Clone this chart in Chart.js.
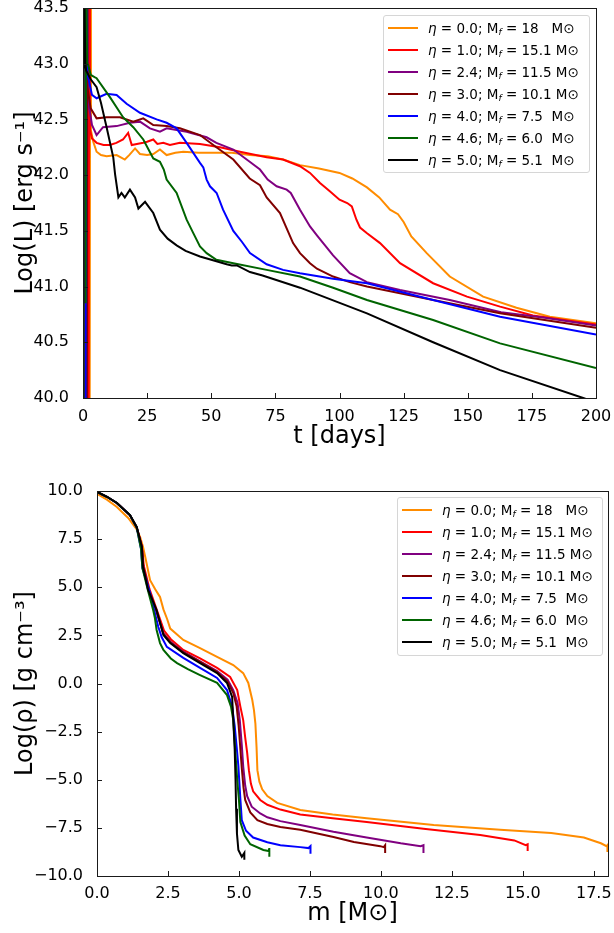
<!DOCTYPE html>
<html>
<head>
<meta charset="utf-8">
<script src="https://cdn.jsdelivr.net/npm/chart.js@4.4.0/dist/chart.umd.min.js"></script>
<style>
    body { margin: 0; background: #fff; }
    #wrap { position: relative; width: 614px; height: 933px; font-family: "DejaVu Sans", sans-serif; }
    canvas { position: absolute; left: 0; }
    .legend {
        position: absolute;
        box-sizing: border-box;
        border: 1px solid #d6d6d6;
        border-radius: 3px;
        background: rgba(255, 255, 255, 0.85);
        padding-top: 1px;
        font-size: 13.5px;
        color: #000;
    }
    .legend .row { position: relative; height: 22px; line-height: 22px; white-space: pre; }
    .legend .swatch { position: absolute; left: 4px; top: 10px; width: 30px; height: 2px; }
    .legend .txt { position: absolute; left: 44px; top: 0; }
    .legend sub { font-size: 9px; vertical-align: -2px; line-height: 0; }
</style>
</head>
<body>
<div id="wrap">
    <canvas id="lcChart" width="614" height="460" style="top:0"></canvas>
    <canvas id="rhoChart" width="614" height="473" style="top:460px"></canvas>
    <div id="lcLegend" class="legend" style="left:383px; top:15px; width:207px; height:158px"></div>
    <div id="rhoLegend" class="legend" style="left:397px; top:497px; width:206px; height:159px"></div>
</div>
<script>
// model labels: mass-loss eta and final mass
const etaLabels = ['0.0', '1.0', '2.4', '3.0', '4.0', '4.6', '5.0'];
const massLabels = ['18  ', '15.1', '11.5', '10.1', '7.5 ', '6.0 ', '5.1 '];
const lineColors = ['#ff8c00', '#ff0000', '#800080', '#800000', '#0000ff', '#006400', '#000000'];

// light curves: t [days], Log(L)
const lcT0 = [2.6, 2.8, 3.1, 4, 5.3, 7, 9.2, 13.1, 16.3, 18, 20.3, 22.2, 25, 27.4, 30, 32.6, 36, 39.1, 45, 52.1, 58, 65.1, 72, 78, 84.6, 92, 100, 105, 110.7, 115.5, 119.7, 122.8, 125, 128, 134, 143, 156, 169, 182, 200];
const lcL0 = [39.5, 44.0, 42.4, 42.3, 42.21, 42.18, 42.17, 42.18, 42.14, 42.18, 42.24, 42.19, 42.18, 42.19, 42.23, 42.18, 42.2, 42.21, 42.2, 42.2, 42.2, 42.18, 42.17, 42.14, 42.09, 42.06, 42.02, 41.97, 41.89, 41.8, 41.69, 41.65, 41.58, 41.45, 41.3, 41.09, 40.91, 40.81, 40.73, 40.67];

const lcT1 = [2.2, 2.4, 2.7, 3.5, 5.3, 8, 10.5, 13, 15.6, 17.6, 19, 21, 23.5, 25, 27.4, 29, 31.3, 33.9, 37.8, 45.6, 53.4, 61.2, 71.6, 78, 84.6, 88.5, 92.4, 96, 100, 103, 104.8, 106.6, 108, 110.6, 115.8, 123.6, 136.5, 149.7, 162.6, 175.4, 200];
const lcL1 = [39.5, 44.0, 42.41, 42.33, 42.29, 42.27, 42.27, 42.29, 42.32, 42.38, 42.27, 42.28, 42.29, 42.3, 42.32, 42.28, 42.29, 42.27, 42.29, 42.28, 42.25, 42.21, 42.16, 42.14, 42.08, 42.02, 41.93, 41.86, 41.78, 41.75, 41.72, 41.6, 41.53, 41.48, 41.39, 41.21, 41.03, 40.91, 40.82, 40.74, 40.66];

const lcT2 = [1.5, 1.7, 2.0, 3.5, 5.3, 7.8, 13.1, 18.3, 22.2, 26.1, 30, 32.6, 40.4, 48.2, 52, 58.6, 65, 69, 72, 75.5, 79.4, 81, 84.6, 88.5, 91.2, 97.5, 104, 110.7, 123.6, 143, 163, 180, 200];
const lcL2 = [39.5, 44.0, 42.67, 42.45, 42.36, 42.43, 42.44, 42.47, 42.48, 42.42, 42.39, 42.42, 42.39, 42.34, 42.29, 42.23, 42.12, 42.05, 41.96, 41.9, 41.87, 41.84, 41.69, 41.54, 41.46, 41.28, 41.12, 41.04, 40.97, 40.88, 40.77, 40.72, 40.65];

const lcT3 = [1.5, 1.6, 1.7, 3, 5.3, 9.2, 14.4, 19.6, 23.5, 27.4, 32.6, 37.8, 45.6, 52, 58.6, 65, 69, 71.6, 76.8, 81.9, 84.6, 88.5, 91.2, 97.5, 104, 110.7, 136.5, 162.6, 200];
const lcL3 = [39.5, 44.0, 42.79, 42.6, 42.51, 42.52, 42.52, 42.48, 42.51, 42.45, 42.44, 42.42, 42.36, 42.25, 42.14, 41.97, 41.91, 41.8, 41.66, 41.39, 41.3, 41.21, 41.16, 41.09, 41.04, 41.0, 40.88, 40.76, 40.63];

const lcT4 = [1.0, 1.2, 1.6, 2.0, 3.5, 5.3, 9.2, 13.1, 17, 22.2, 28.7, 32.6, 36.5, 40.4, 45.6, 46.9, 48.2, 49.5, 52.1, 54.6, 58.6, 62, 65.1, 71.6, 78, 84.6, 97.5, 110.7, 136.5, 162.6, 200];
const lcL4 = [39.5, 44.0, 42.92, 42.88, 42.72, 42.69, 42.73, 42.72, 42.64, 42.56, 42.5, 42.47, 42.42, 42.29, 42.11, 42.07, 41.96, 41.9, 41.84, 41.69, 41.5, 41.4, 41.3, 41.2, 41.15, 41.12, 41.07, 41.03, 40.88, 40.73, 40.57];

const lcT5 = [1.0, 1.2, 1.6, 2.0, 3.0, 4.5, 5.3, 10.5, 15.6, 19.6, 23.5, 27.4, 30, 31.5, 32.6, 36.5, 40.4, 43, 45.6, 48.2, 52, 58.6, 71.6, 84.6, 97.5, 110.7, 136.5, 162.6, 200];
const lcL5 = [40.85, 44.0, 43.0, 42.99, 42.9, 42.88, 42.87, 42.7, 42.52, 42.43, 42.32, 42.15, 42.12, 42.05, 41.96, 41.84, 41.6, 41.48, 41.36, 41.3, 41.24, 41.21, 41.15, 41.09, 40.99, 40.88, 40.7, 40.49, 40.27];

const lcT6 = [0, 0.3, 0.9, 1.2, 3, 5.3, 7, 9.2, 11.8, 12.5, 13.8, 15, 16.3, 18.3, 20.3, 21.6, 24.2, 27.4, 30, 33, 36.5, 40, 45.6, 50, 56, 58, 60, 65.1, 70, 84.6, 110.7, 136.5, 162.6, 195, 200];
const lcL6 = [39.5, 44.0, 43.0, 42.94, 42.86, 42.79, 42.65, 42.43, 42.16, 42.01, 41.8, 41.84, 41.8, 41.87, 41.8, 41.7, 41.76, 41.66, 41.51, 41.43, 41.37, 41.32, 41.27, 41.24, 41.2, 41.19, 41.19, 41.13, 41.1, 40.99, 40.76, 40.5, 40.25, 40.0, 39.96];

// density profiles: m [Msun], Log(rho)
const rhoM0 = [0, 0.35, 0.7, 1.1, 1.4, 1.52, 1.62, 1.7, 1.87, 2.05, 2.22, 2.34, 2.47, 2.58, 2.82, 3.04, 3.63, 4.23, 4.8, 5.15, 5.33, 5.47, 5.53, 5.58, 5.62, 5.65, 5.72, 5.82, 6.0, 6.35, 7.16, 8.3, 9.5, 11.86, 14.2, 16.0, 17.15, 17.75, 17.95, 17.98, 17.98];
const rhoV0 = [9.85, 9.55, 9.17, 8.6, 8.0, 7.6, 7.1, 6.57, 5.37, 4.9, 4.5, 3.85, 3.35, 2.85, 2.55, 2.26, 1.84, 1.38, 0.96, 0.54, 0.03, -0.86, -1.4, -2.1, -3.3, -4.5, -5.1, -5.5, -5.85, -6.2, -6.57, -6.8, -7.0, -7.35, -7.6, -7.77, -8.0, -8.3, -8.45, -8.4, -8.75];

const rhoM1 = [0, 0.35, 0.7, 1.16, 1.4, 1.58, 1.65, 1.85, 2.1, 2.36, 2.6, 3.04, 3.63, 4.23, 4.69, 4.94, 5.05, 5.15, 5.22, 5.29, 5.35, 5.42, 5.5, 5.75, 6.0, 6.46, 7.16, 8.3, 9.5, 11.5, 13.5, 14.7, 15.1, 15.17, 15.17];
const rhoV1 = [9.95, 9.7, 9.38, 8.75, 8.1, 7.15, 6.1, 4.9, 3.85, 2.75, 2.3, 1.74, 1.3, 0.81, 0.34, -0.34, -1.2, -1.9, -2.8, -3.6, -4.5, -5.2, -5.6, -6.05, -6.3, -6.55, -6.8, -7.0, -7.2, -7.55, -7.87, -8.15, -8.4, -8.35, -8.7];

const rhoM2 = [0, 0.35, 0.7, 1.16, 1.4, 1.58, 1.63, 1.83, 2.08, 2.34, 2.6, 3.04, 3.63, 4.23, 4.6, 4.8, 4.95, 5.03, 5.1, 5.15, 5.22, 5.29, 5.45, 5.75, 6.0, 6.46, 7.16, 8.33, 9.5, 10.7, 11.4, 11.5, 11.5];
const rhoV2 = [9.95, 9.7, 9.38, 8.75, 8.1, 7.1, 6.05, 4.85, 3.82, 2.6, 2.15, 1.65, 1.15, 0.65, 0.2, -0.34, -1.0, -1.9, -3.2, -4.3, -5.3, -5.85, -6.4, -6.75, -6.95, -7.15, -7.35, -7.7, -8.0, -8.3, -8.45, -8.4, -8.8];

const rhoM3 = [0, 0.35, 0.7, 1.16, 1.4, 1.58, 1.63, 1.83, 2.08, 2.34, 2.6, 3.04, 3.63, 4.23, 4.6, 4.8, 4.92, 4.99, 5.05, 5.1, 5.16, 5.22, 5.4, 5.65, 6.0, 6.46, 7.16, 8.33, 9.05, 9.98, 10.1, 10.15, 10.15];
const rhoV3 = [9.95, 9.7, 9.38, 8.75, 8.1, 7.1, 6.05, 4.85, 3.82, 2.58, 2.12, 1.62, 1.12, 0.6, 0.1, -0.5, -1.2, -2.2, -3.4, -4.4, -5.4, -6.05, -6.7, -7.1, -7.3, -7.45, -7.6, -7.97, -8.23, -8.45, -8.5, -8.4, -8.8];

const rhoM4 = [0, 0.35, 0.7, 1.16, 1.4, 1.55, 1.6, 1.87, 2.0, 2.16, 2.28, 2.46, 3.04, 3.63, 4.23, 4.58, 4.76, 4.85, 4.92, 4.98, 5.05, 5.1, 5.25, 5.5, 6.0, 6.46, 7.16, 7.45, 7.52, 7.52];
const rhoV4 = [9.95, 9.7, 9.38, 8.75, 8.1, 7.0, 6.0, 4.7, 3.9, 2.93, 2.4, 1.9, 1.33, 0.81, 0.29, -0.34, -1.2, -2.2, -3.3, -4.3, -6.0, -7.1, -7.65, -8.0, -8.25, -8.4, -8.5, -8.55, -8.45, -8.85];

const rhoM5 = [0, 0.35, 0.7, 1.16, 1.4, 1.55, 1.6, 1.8, 1.98, 2.04, 2.1, 2.22, 2.34, 2.6, 2.82, 3.2, 3.63, 4.23, 4.58, 4.72, 4.8, 4.87, 4.94, 5.0, 5.05, 5.2, 5.4, 5.86, 6.05, 6.07, 6.07];
const rhoV5 = [9.95, 9.7, 9.38, 8.75, 8.1, 7.0, 6.0, 4.8, 3.8, 3.4, 2.78, 2.1, 1.74, 1.3, 1.06, 0.75, 0.44, 0.03, -0.6, -1.2, -1.9, -3.5, -5.0, -6.05, -7.2, -7.9, -8.35, -8.65, -8.7, -8.55, -9.0];

const rhoM6 = [0, 0.35, 0.7, 1.16, 1.4, 1.58, 1.62, 1.8, 2.1, 2.34, 2.58, 3.04, 3.63, 4.23, 4.58, 4.76, 4.8, 4.85, 4.88, 4.9, 4.93, 4.98, 5.1, 5.19, 5.19];
const rhoV6 = [9.95, 9.7, 9.38, 8.75, 8.13, 7.09, 6.05, 4.86, 3.82, 2.52, 2.1, 1.58, 1.06, 0.54, 0.03, -0.7, -1.9, -3.4, -5.0, -6.5, -7.8, -8.65, -9.0, -8.8, -9.15];

const lcTimes = [lcT0, lcT1, lcT2, lcT3, lcT4, lcT5, lcT6];
const lcLums = [lcL0, lcL1, lcL2, lcL3, lcL4, lcL5, lcL6];
const rhoMass = [rhoM0, rhoM1, rhoM2, rhoM3, rhoM4, rhoM5, rhoM6];
const rhoVals = [rhoV0, rhoV1, rhoV2, rhoV3, rhoV4, rhoV5, rhoV6];

const FONT = '"DejaVu Sans", sans-serif';
const minus = (s) => s.replace('-', '\u2212');

// box around the axes and inward ticks on left / bottom
const framePlugin = {
    id: 'frame',
    afterDatasetsDraw(chart) {
        const { ctx, chartArea: a, scales } = chart;
        ctx.save();
        ctx.strokeStyle = '#1a1a1a';
        ctx.lineWidth = 1;
        ctx.strokeRect(Math.round(a.left) + 0.5, Math.round(a.top) + 0.5,
            Math.round(a.right - a.left), Math.round(a.bottom - a.top));
        ctx.beginPath();
        scales.x.ticks.forEach(t => {
            const px = Math.round(scales.x.getPixelForValue(t.value)) + 0.5;
            ctx.moveTo(px, a.bottom);
            ctx.lineTo(px, a.bottom - 5);
        });
        scales.y.ticks.forEach(t => {
            const py = Math.round(scales.y.getPixelForValue(t.value)) + 0.5;
            ctx.moveTo(a.left, py);
            ctx.lineTo(a.left + 5, py);
        });
        ctx.stroke();
        ctx.restore();
    }
};

const makeDatasets = (xs, ys) => xs.map((x, i) => ({
    label: 'eta = ' + etaLabels[i],
    data: x.map((v, j) => ({ x: v, y: ys[i][j] })),
    borderColor: lineColors[i],
    backgroundColor: lineColors[i],
    borderWidth: 2,
    pointRadius: 0,
    showLine: true,
    tension: 0,
    clip: 0,
    order: xs.length - 1 - i   // later models drawn on top, like matplotlib
}));

const fixedBox = (w, h) => (scale) => {
    if (w !== null) scale.width = w;
    if (h !== null) scale.height = h;
    scale.paddingTop = 0; scale.paddingBottom = 0;
    scale.paddingLeft = 0; scale.paddingRight = 0;
};

const makeChart = (id, datasets, cfg) => new Chart(document.getElementById(id), {
    type: 'scatter',
    data: { datasets },
    options: {
        responsive: false,
        animation: false,
        devicePixelRatio: 1,
        layout: { padding: cfg.padding },
        plugins: { legend: { display: false }, tooltip: { enabled: false } },
        scales: {
            x: {
                type: 'linear', min: cfg.xMin, max: cfg.xMax,
                grid: { display: false }, border: { display: false },
                afterFit: fixedBox(null, cfg.xHeight),
                ticks: {
                    stepSize: cfg.xStep, includeBounds: false, autoSkip: false, maxRotation: 0,
                    padding: cfg.xTickPad, color: '#000', font: { family: FONT, size: 16 },
                    callback: cfg.xFmt
                },
                title: {
                    display: true, text: cfg.xTitle, color: '#000',
                    font: { family: FONT, size: 24 }, padding: { top: 0, bottom: cfg.xTitlePad }
                }
            },
            y: {
                type: 'linear', min: cfg.yMin, max: cfg.yMax,
                grid: { display: false }, border: { display: false },
                afterFit: fixedBox(cfg.yWidth, null),
                ticks: {
                    stepSize: cfg.yStep, includeBounds: false, autoSkip: false,
                    padding: 6, color: '#000', font: { family: FONT, size: 16 },
                    callback: (v) => minus(v.toFixed(1))
                },
                title: {
                    display: true, text: cfg.yTitle, color: '#000',
                    font: { family: FONT, size: 24 }, padding: { top: 11, bottom: 0 }
                }
            }
        }
    },
    plugins: [framePlugin]
});

const buildLegend = (id) => {
    const box = document.getElementById(id);
    etaLabels.forEach((eta, i) => {
        const row = document.createElement('div');
        row.className = 'row';
        row.innerHTML = `<span class="swatch" style="background:${lineColors[i]}"></span>` +
            `<span class="txt"><i>\u03B7</i> = ${eta}; M<sub><i>f</i></sub> = ${massLabels[i]} M\u2299</span>`;
        box.appendChild(row);
    });
};

makeChart('lcChart', makeDatasets(lcTimes, lcLums), {
    padding: { left: 0, top: 8, right: 18, bottom: 0 },
    xMin: 0, xMax: 200, xStep: 25, xHeight: 62, xTitlePad: 9, xTickPad: 1,
    xFmt: (v) => String(v), xTitle: 't [days]',
    yMin: 40, yMax: 43.5, yStep: 0.5, yWidth: 83,
    yTitle: 'Log(L) [erg s\u207B\u00B9]'
});

makeChart('rhoChart', makeDatasets(rhoMass, rhoVals), {
    padding: { left: 0, top: 31, right: 6, bottom: 0 },
    xMin: 0, xMax: 18, xStep: 2.5, xHeight: 57, xTitlePad: 5, xTickPad: 0,
    xFmt: (v) => v.toFixed(1), xTitle: 'm [M\u2299]',
    yMin: -10, yMax: 10, yStep: 2.5, yWidth: 97,
    yTitle: 'Log(\u03C1) [g cm\u207B\u00B3]'
});

buildLegend('lcLegend');
buildLegend('rhoLegend');
</script>
</body>
</html>
